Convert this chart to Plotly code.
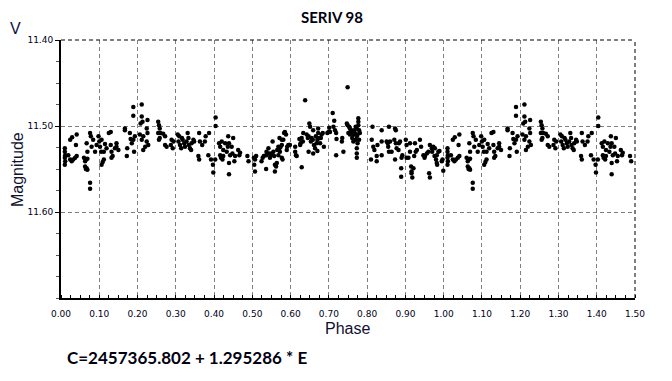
import plotly.graph_objects as go

# Phase (0..1) and V magnitude
phase = [
    0.010, 0.010, 0.011, 0.010, 0.011, 0.010,
    0.019, 0.024, 0.028, 0.032, 0.037, 0.041,
    0.024, 0.029, 0.041, 0.039,
    0.060, 0.065, 0.063, 0.069,
    0.063, 0.067, 0.069, 0.065,
    0.067, 0.069, 0.076, 0.078, 0.080, 0.076, 0.076,
    0.084, 0.089, 0.093, 0.098, 0.100, 0.102, 0.105, 0.106, 0.109, 0.106, 0.112, 0.112, 0.115, 0.119,
    0.125, 0.130, 0.130, 0.132, 0.135, 0.132, 0.141, 0.145, 0.150, 0.145,
    0.167, 0.167, 0.173, 0.172, 0.180, 0.182, 0.185, 0.189, 0.191, 0.193, 0.189, 0.189,
    0.211, 0.211, 0.208, 0.213, 0.206, 0.211, 0.215, 0.220, 0.224, 0.226, 0.224, 0.226, 0.228, 0.215,
    0.254, 0.256, 0.258, 0.254, 0.260, 0.267, 0.272, 0.258, 0.256, 0.272, 0.276, 0.289, 0.294, 0.287, 0.292,
    0.305, 0.309, 0.307, 0.311, 0.316, 0.318, 0.322, 0.328, 0.331, 0.333, 0.334, 0.337, 0.341, 0.346,
    0.348, 0.340, 0.314, 0.324,
    0.361, 0.363, 0.359, 0.361, 0.369, 0.376, 0.378, 0.387, 0.385, 0.392, 0.397, 0.398, 0.404, 0.404, 0.403,
    0.413, 0.416, 0.420, 0.416, 0.418, 0.422, 0.424, 0.424, 0.429, 0.433, 0.436, 0.437, 0.439, 0.442,
    0.439, 0.439, 0.446, 0.450, 0.448, 0.455, 0.453, 0.463, 0.468, 0.466,
    0.487, 0.490, 0.504, 0.507, 0.510, 0.505, 0.507,
    0.524, 0.527, 0.530, 0.536, 0.537, 0.542, 0.544, 0.536, 0.546, 0.548, 0.550, 0.553, 0.555, 0.557,
    0.559, 0.562, 0.564, 0.559, 0.565, 0.568, 0.571, 0.572, 0.568, 0.574, 0.577, 0.577, 0.579, 0.571,
    0.577, 0.581, 0.583, 0.585, 0.588, 0.590, 0.591, 0.594, 0.597, 0.598,
    0.612, 0.612, 0.614, 0.616, 0.623, 0.625, 0.626, 0.629, 0.632, 0.633, 0.629, 0.638,
    0.642, 0.645, 0.647, 0.649, 0.651, 0.647, 0.653, 0.655, 0.658, 0.659, 0.661, 0.664, 0.666, 0.668,
    0.670, 0.672, 0.672, 0.675, 0.677, 0.679, 0.681, 0.684, 0.687, 0.659, 0.670,
    0.696, 0.699, 0.701, 0.703, 0.710, 0.714, 0.712, 0.716, 0.719, 0.720, 0.719,
    0.735, 0.734, 0.738, 0.749,
    0.747, 0.749, 0.753, 0.755, 0.758, 0.751, 0.755, 0.760, 0.761, 0.764, 0.764, 0.766, 0.768, 0.770,
    0.773, 0.773, 0.775, 0.777, 0.777, 0.777, 0.779, 0.779, 0.781, 0.775, 0.773, 0.773, 0.773, 0.770,
    0.812, 0.810, 0.814, 0.816, 0.819, 0.825, 0.825, 0.827, 0.838, 0.838, 0.838, 0.851, 0.854, 0.855,
    0.857, 0.857, 0.860, 0.864, 0.871, 0.873, 0.875, 0.875, 0.873, 0.877, 0.882, 0.883, 0.886, 0.890,
    0.889, 0.889, 0.892, 0.901, 0.903, 0.903, 0.908, 0.912, 0.912, 0.915, 0.916, 0.918, 0.916, 0.921,
    0.925, 0.923, 0.927, 0.930, 0.938, 0.941, 0.947, 0.950, 0.951, 0.956, 0.960, 0.962, 0.964, 0.964,
    0.969, 0.970, 0.973, 0.976,
    0.977, 0.980, 0.982, 0.983, 0.986, 0.989, 0.995, 0.997, 0.999, 0.982,
]

mag = [
    11.526, 11.530, 11.534, 11.537, 11.541, 11.545,
    11.534, 11.539, 11.541, 11.539, 11.537, 11.535,
    11.516, 11.513, 11.510, 11.522,
    11.537, 11.539, 11.541, 11.538,
    11.547, 11.549, 11.551, 11.550,
    11.520, 11.530, 11.508, 11.512, 11.524, 11.566, 11.573,
    11.516, 11.530, 11.522, 11.512, 11.518, 11.524, 11.530, 11.516, 11.542, 11.545, 11.539, 11.530, 11.521, 11.526,
    11.508, 11.507, 11.522, 11.530, 11.535, 11.537, 11.526, 11.524, 11.528, 11.520,
    11.503, 11.505, 11.526, 11.535, 11.508, 11.515, 11.520, 11.516, 11.530, 11.512, 11.478, 11.488,
    11.475, 11.489, 11.497, 11.495, 11.510, 11.516, 11.512, 11.524, 11.503, 11.508, 11.518, 11.493, 11.522, 11.528,
    11.495, 11.499, 11.503, 11.508, 11.508, 11.509, 11.512, 11.514, 11.516, 11.522, 11.524, 11.516, 11.518, 11.522, 11.526,
    11.510, 11.512, 11.518, 11.522, 11.514, 11.516, 11.520, 11.518, 11.508, 11.514, 11.522, 11.526, 11.520, 11.516,
    11.518, 11.528, 11.526, 11.524,
    11.508, 11.518, 11.535, 11.539, 11.522, 11.518, 11.512, 11.508, 11.534, 11.539, 11.545, 11.554, 11.490, 11.500, 11.539,
    11.520, 11.524, 11.518, 11.534, 11.537, 11.539, 11.528, 11.535, 11.520, 11.530, 11.524, 11.512, 11.520, 11.534,
    11.543, 11.556, 11.524, 11.514, 11.532, 11.535, 11.541, 11.528, 11.531, 11.534,
    11.535, 11.541, 11.537, 11.539, 11.535, 11.545, 11.553,
    11.541, 11.537, 11.535, 11.534, 11.530, 11.526, 11.532, 11.550, 11.537, 11.534, 11.532, 11.518, 11.530, 11.535,
    11.545, 11.547, 11.543, 11.553, 11.528, 11.524, 11.526, 11.530, 11.534, 11.524, 11.522, 11.537, 11.539, 11.514,
    11.516, 11.516, 11.508, 11.507, 11.510, 11.528, 11.524, 11.522, 11.522, 11.522,
    11.524, 11.530, 11.534, 11.535, 11.515, 11.522, 11.520, 11.514, 11.518, 11.508, 11.548, 11.470,
    11.510, 11.514, 11.512, 11.497, 11.501, 11.530, 11.518, 11.514, 11.516, 11.505, 11.522, 11.526, 11.512, 11.520,
    11.516, 11.508, 11.503, 11.514, 11.520, 11.514, 11.510, 11.508, 11.524, 11.532, 11.529,
    11.508, 11.507, 11.502, 11.507, 11.485, 11.494, 11.501, 11.505, 11.508, 11.515, 11.534,
    11.514, 11.518, 11.530, 11.455,
    11.497, 11.499, 11.501, 11.503, 11.505, 11.508, 11.510, 11.507, 11.514, 11.510, 11.518, 11.505, 11.508, 11.501,
    11.503, 11.512, 11.510, 11.491, 11.495, 11.499, 11.505, 11.516, 11.508, 11.520, 11.526, 11.532, 11.537, 11.516,
    11.516, 11.539, 11.501, 11.524, 11.528, 11.535, 11.541, 11.522, 11.505, 11.518, 11.534, 11.518, 11.520, 11.524,
    11.501, 11.530, 11.518, 11.530, 11.516, 11.503, 11.505, 11.520, 11.539, 11.526, 11.528, 11.520, 11.518, 11.537,
    11.549, 11.559, 11.534, 11.516, 11.522, 11.537, 11.537, 11.530, 11.520, 11.547, 11.555, 11.560, 11.553, 11.549,
    11.520, 11.535, 11.530, 11.528, 11.516, 11.524, 11.534, 11.537, 11.535, 11.532, 11.530, 11.555, 11.560, 11.522,
    11.526, 11.530, 11.524, 11.535,
    11.526, 11.539, 11.543, 11.545, 11.530, 11.529, 11.541, 11.539, 11.552, 11.534,
]

x_ticks = [0.0, 0.1, 0.2, 0.3, 0.4, 0.5, 0.6, 0.7, 0.8, 0.9, 1.0, 1.1, 1.2, 1.3, 1.4, 1.5]
y_ticks = [11.40, 11.50, 11.60]

# Phased light curve shown over 1.5 cycles: phases 0..0.5 repeated at 1..1.5
xs = phase + [p + 1 for p in phase if p < 0.5]
ys = mag + [m for p, m in zip(phase, mag) if p < 0.5]

W, H = 672, 381
L, R, T, B = 61, 635, 40, 298


def px(xp, yp):
    return (xp - L) / (R - L), (B - yp) / (B - T)


fig = go.Figure(go.Scatter(
    x=xs, y=ys, mode="markers",
    marker=dict(color="black", size=4.5, line=dict(width=0)),
    hoverinfo="skip",
))

tickfont = dict(family="DejaVu Sans", size=9, color="#000018")
GRID_DASH = "4px,3px"

fig.update_layout(
    width=W, height=H,
    margin=dict(l=L, r=W - R, t=T, b=H - B, autoexpand=False),
    plot_bgcolor="white", paper_bgcolor="white",
    showlegend=False,
)
fig.update_xaxes(
    range=[0, 1.5], tickvals=x_ticks, tickformat=".2f",
    showgrid=True, gridcolor="#808080", griddash=GRID_DASH, gridwidth=1,
    showline=True, linecolor="black", linewidth=2,
    ticks="", ticklabelstandoff=6, tickfont=tickfont, zeroline=False,
    minor=dict(tick0=0, dtick=0.025, ticks="inside", ticklen=3, tickcolor="black", showgrid=False),
)
fig.update_yaxes(
    range=[11.70, 11.40], tickvals=y_ticks, tickformat=".2f",
    showgrid=True, gridcolor="#808080", griddash=GRID_DASH, gridwidth=1,
    showline=True, linecolor="black", linewidth=2,
    ticks="outside", ticklen=4, tickcolor="black", tickfont=tickfont, zeroline=False,
    minor=dict(tick0=11.40, dtick=0.025, ticks="outside", ticklen=3, tickcolor="#555", showgrid=False),
)

# dashed frame on top and right
fig.add_shape(type="line", xref="paper", yref="paper", x0=0, x1=1, y0=1, y1=1,
              line=dict(color="black", width=1, dash=GRID_DASH))
fig.add_shape(type="line", xref="paper", yref="paper", x0=1, x1=1, y0=0, y1=1,
              line=dict(color="black", width=1, dash=GRID_DASH))


def ann(text, xp, yp, size, family="Liberation Sans", color="black", angle=0, xanchor="center"):
    ax, ay = px(xp, yp)
    fig.add_annotation(text=text, x=ax, y=ay, xref="paper", yref="paper",
                       showarrow=False, xanchor=xanchor, yanchor="middle",
                       textangle=angle, font=dict(family=family, size=size, color=color))


ann("<b>SERIV 98</b>", 332, 17, 15, family="Lato", color="#000010")
ann("V", 15, 29, 16, color="#101040")
ann("Magnitude", 17, 170, 16, angle=-90, color="#101030")
ann("Phase", 347, 328, 16, color="#101030")
ann("<b>C=2457365.802 + 1.295286 * E</b>", 65, 357, 17, family="Lato", color="#000010", xanchor="left")

fig.write_html("out.html", config={"displayModeBar": False},
               post_script="document.body.style.margin='0';document.body.style.padding='0';")
